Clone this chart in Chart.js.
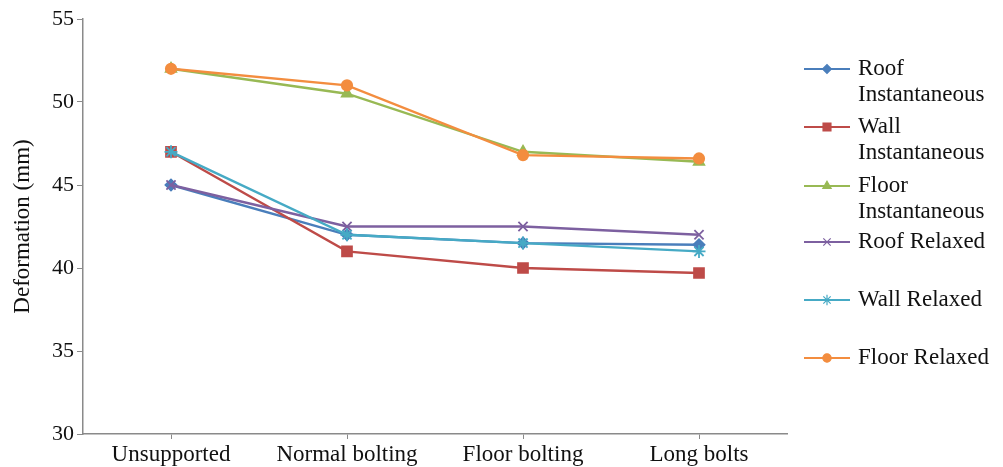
<!DOCTYPE html>
<html>
<head>
<meta charset="utf-8">
<script src="https://cdn.jsdelivr.net/npm/chart.js@4"></script>
<style>
  html, body { margin: 0; padding: 0; background: #fff; }
  #wrap { width: 1003px; height: 467px; position: relative; }
</style>
</head>
<body>
<div id="wrap"><canvas id="c"></canvas></div>
<script>
// Support stages along the x axis
const categories = ["Unsupported", "Normal bolting", "Floor bolting", "Long bolts"];

// Deformation values (mm) per series
const roofInstantaneous  = [45, 42, 41.5, 41.4];
const wallInstantaneous  = [47, 41, 40, 39.7];
const floorInstantaneous = [52, 50.5, 47, 46.4];
const roofRelaxed        = [45, 42.5, 42.5, 42];
const wallRelaxed        = [47, 42, 41.5, 41];
const floorRelaxed       = [52, 51, 46.8, 46.6];

// Legend text, wrapped as drawn
const seriesNames = [
  ["Roof", "Instantaneous"],
  ["Wall", "Instantaneous"],
  ["Floor", "Instantaneous"],
  ["Roof Relaxed"],
  ["Wall Relaxed"],
  ["Floor Relaxed"]
];

const yTitle = "Deformation (mm)";

const serif = "'Liberation Serif', 'DejaVu Serif', serif";
const axisGrey = "#8a8a8a";

const seriesStyle = [
  { color: "#4A7EBB", point: "rectRot", radius: 5.5 },
  { color: "#BE4B48", point: "rect", radius: 7 },
  { color: "#98B954", point: "triangle", radius: 6 },
  { color: "#7D60A0", point: "crossRot", radius: 6.5 },
  { color: "#46AAC5", point: "star", radius: 6.5 },
  { color: "#F38D3F", point: "circle", radius: 5.2 }
];

const seriesData = [roofInstantaneous, wallInstantaneous, floorInstantaneous,
                    roofRelaxed, wallRelaxed, floorRelaxed];

const datasets = seriesData.map((vals, i) => ({
  label: seriesNames[i].join(" "),
  data: vals,
  borderColor: seriesStyle[i].color,
  backgroundColor: seriesStyle[i].color,
  pointStyle: seriesStyle[i].point,
  pointRadius: seriesStyle[i].radius,
  pointBorderWidth: 1.8,
  borderWidth: 2.4,
  tension: 0,
  // later series are painted over earlier ones
  order: seriesData.length - i
}));

// Legend on the right with wrapped names
const sideLegend = {
  id: "sideLegend",
  afterDraw(chart) {
    const ctx = chart.ctx;
    const x0 = 804, x1 = 850, tx = 858;
    const rowY = [69, 127, 186, 242, 300, 358];
    ctx.save();
    ctx.font = "23px " + serif;
    ctx.textBaseline = "middle";
    ctx.textAlign = "left";
    chart.data.datasets.forEach((ds, i) => {
      const y = rowY[i];
      ctx.strokeStyle = ds.borderColor;
      ctx.lineWidth = 2.2;
      ctx.beginPath();
      ctx.moveTo(x0, y);
      ctx.lineTo(x1, y);
      ctx.stroke();
      ctx.fillStyle = ds.backgroundColor;
      ctx.strokeStyle = ds.borderColor;
      ctx.lineWidth = 1.2;
      Chart.helpers.drawPoint(ctx, {
        pointStyle: ds.pointStyle,
        radius: ds.pointRadius * 0.8,
        rotation: 0,
        borderWidth: 1.2
      }, (x0 + x1) / 2, y);
      ctx.fillStyle = "#111";
      seriesNames[i].forEach((line, k) => {
        ctx.fillText(line, tx, y + k * 26);
      });
    });
    ctx.restore();
  }
};

new Chart(document.getElementById("c"), {
  type: "line",
  data: { labels: categories, datasets },
  plugins: [sideLegend],
  options: {
    responsive: true,
    maintainAspectRatio: false,
    animation: false,
    layout: { padding: { left: 0, right: 216, top: 19, bottom: 0 } },
    plugins: {
      legend: { display: false },
      tooltip: { enabled: false }
    },
    scales: {
      x: {
        offset: true,
        grid: {
          display: true,
          drawOnChartArea: false,
          drawTicks: true,
          tickLength: 5,
          color: axisGrey,
          offset: false
        },
        border: { color: axisGrey, width: 1.5 },
        ticks: {
          color: "#111",
          font: { family: serif, size: 23 },
          padding: 2,
          maxRotation: 0,
          autoSkip: false
        },
        afterFit(scale) { scale.height = 33; }
      },
      y: {
        min: 30,
        max: 55,
        grid: {
          display: true,
          drawOnChartArea: false,
          drawTicks: true,
          tickLength: 6,
          color: axisGrey
        },
        border: { color: axisGrey, width: 1.5 },
        ticks: {
          stepSize: 5,
          color: "#111",
          font: { family: serif, size: 22 },
          padding: 3
        },
        title: {
          display: true,
          text: yTitle,
          color: "#111",
          font: { family: serif, size: 23 },
          padding: { top: 9, bottom: 0 }
        },
        afterFit(scale) { scale.width = 83; }
      }
    }
  }
});
</script>
</body>
</html>
